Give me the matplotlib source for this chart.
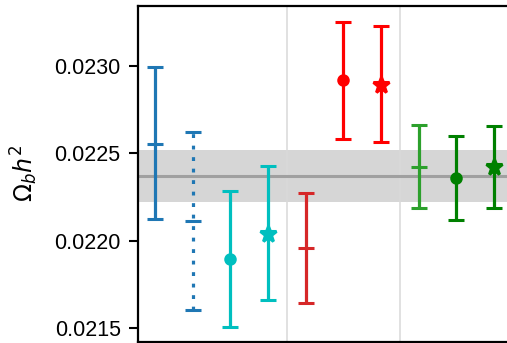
import matplotlib
matplotlib.use("Agg")
from matplotlib import pyplot as plt

plt.rcParams['font.family'] = ['Liberation Sans', 'DejaVu Sans']

# measurements of Omega_b h^2: central value with lower / upper bounds
centers = [0.022554, 0.022113, 0.021898, 0.022041, 0.021957,
           0.022918, 0.022891, 0.022424, 0.022359, 0.022420]
lows = [0.022125, 0.021604, 0.021509, 0.021661, 0.021642,
        0.022581, 0.022565, 0.022186, 0.022121, 0.022190]
highs = [0.022993, 0.022622, 0.022287, 0.022426, 0.022273,
         0.023253, 0.023231, 0.022662, 0.022600, 0.022655]
colors = ['tab:blue', 'tab:blue', 'c', 'c', 'tab:red',
          'r', 'r', 'tab:green', 'g', 'g']
markers = ['_', '_', 'o', '*', '_', 'o', '*', '_', 'o', '*']
styles = ['-', ':', '-', '-', '-', '-', '-', '-', '-', '-']

planck_mean = 0.02237
planck_err = 0.00015
separators = [3.5, 6.5]

fig = plt.figure(figsize=(5.07, 3.43), dpi=100)
ax = fig.add_axes([138 / 507, 0.004, 1 - 138 / 507, 0.9785])

ax.axhspan(planck_mean - planck_err, planck_mean + planck_err,
           color='#d6d6d6', lw=0, zorder=0)
ax.axhline(planck_mean, color='#a0a0a0', lw=2.2, zorder=1)
for s in separators:
    ax.axvline(s, color='#d9d9d9', lw=1.1, zorder=0.5)

for i in range(len(centers)):
    err = [[centers[i] - lows[i]], [highs[i] - centers[i]]]
    ms = {'_': 12, 'o': 6.8, '*': 12}[markers[i]]
    eb = ax.errorbar([i], [centers[i]], yerr=err, color=colors[i],
                     marker=markers[i], ms=ms, mew=2.2, capsize=6,
                     capthick=2.2, elinewidth=2.3, zorder=3)
    if styles[i] == ':':
        eb[2][0].set_linestyle((0, (1.2, 2.4)))

ax.set_xlim(-0.45, 9.34)
ax.set_ylim(0.021423, 0.023343)
ax.set_yticks([0.0215, 0.0220, 0.0225, 0.0230])
ax.set_yticklabels(['0.0215', '0.0220', '0.0225', '0.0230'])
ax.set_xticks([])
ax.tick_params(axis='y', labelsize=15.5, width=1.5, length=6.5, pad=6)
ax.set_ylabel(r'$\Omega_b h^2$', fontsize=17, labelpad=10)
ax.spines['right'].set_visible(False)
for sp in ['left', 'top', 'bottom']:
    ax.spines[sp].set_linewidth(1.6)

fig.savefig('out.png', dpi=100)
